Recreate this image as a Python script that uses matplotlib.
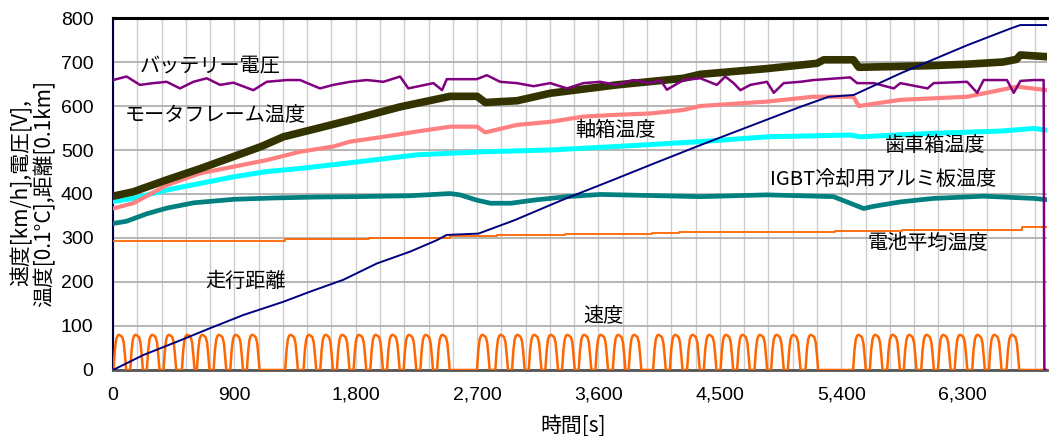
import matplotlib
matplotlib.use("Agg")
import matplotlib.pyplot as plt
from matplotlib.ticker import FuncFormatter, MultipleLocator

# --- speed [km/h]: one hump profile + the time of each hump's top
hump_dt = [-48, -38, -28, -18, -8, 5, 18, 28, 38, 46]
hump_kmh = [0, 45, 70, 78, 80, 78, 74, 62, 30, 0]
hump_t = [52, 176, 299, 423, 559, 670, 794, 918, 1041,
          1325, 1461, 1585, 1708, 1832, 1956, 2080, 2203, 2327, 2451,
          2747, 2883, 3007, 3131, 3254, 3378, 3501, 3625, 3754, 3872,
          4053, 4177, 4305, 4429, 4553, 4676, 4805, 4928, 5052, 5183,
          5536, 5660, 5789, 5912, 6041, 6165, 6289, 6419, 6543, 6674]

# --- distance [0.1 km]
dist_t = [0, 225, 472, 720, 967, 1263, 1461, 1708, 1956, 2203, 2401, 2475,
          2710, 2982, 3328, 3700, 4000, 4355, 4602, 5096, 5307, 5492, 5838,
          6085, 6333, 6654, 6728, 6925]
dist_v = [0, 34, 64, 95, 125, 155, 178, 205, 242, 269, 295, 307,
          310, 341, 386, 431, 468, 511, 540, 598, 621, 625, 674,
          706, 738, 776, 784, 784]

# --- battery mean temperature [0.1 C]
batt_t = [0, 1150, 1273, 1900, 2500, 2850, 3350, 4000, 4200, 5355, 5850, 6740, 6925]
batt_v = [293, 293, 297, 300, 304, 307, 309, 311, 313, 317, 319, 325, 325]

# --- battery voltage [V]
volt_t = [0, 101, 200, 299, 398, 497, 596, 695, 794, 893, 1041, 1140, 1288,
          1387, 1535, 1634, 1758, 1882, 2005, 2129, 2190, 2376, 2440, 2475,
          2698, 2772, 2871, 2995, 3118, 3242, 3366, 3489, 3613, 3736, 3860,
          3984, 4060, 4107, 4230, 4355, 4478, 4540, 4602, 4652, 4726, 4849,
          4900, 4973, 5096, 5195, 5467, 5517, 5640, 5790, 5838, 6040, 6085,
          6333, 6408, 6456, 6629, 6679, 6729, 6827, 6901, 6906, 6925]
volt_v = [659, 667, 648, 652, 655, 640, 655, 663, 648, 653, 636, 655, 659,
          659, 640, 648, 655, 659, 655, 667, 640, 652, 636, 661,
          661, 670, 655, 652, 645, 652, 640, 652, 655, 648, 659,
          652, 659, 637, 659, 663, 648, 667, 652, 636, 648, 655,
          630, 652, 655, 659, 665, 652, 652, 640, 652, 640, 652,
          655, 630, 659, 659, 630, 657, 659, 659, 0, 0]

# --- motor frame temperature [0.1 C]
motor_t = [0, 150, 398, 650, 893, 1100, 1264, 1500, 1758, 2129, 2376, 2500,
           2700, 2760, 2997, 3242, 3736, 4230, 4355, 4849, 5220, 5270, 5490,
           5530, 5838, 6085, 6333, 6600, 6700, 6728, 6925]
motor_v = [395, 405, 432, 458, 485, 508, 530, 548, 568, 598, 614, 622,
           622, 608, 612, 629, 648, 663, 672, 685, 697, 705, 705,
           688, 690, 692, 695, 700, 706, 716, 712]

# --- axle box temperature [0.1 C]
axle_t = [0, 151, 398, 645, 893, 1140, 1387, 1634, 1758, 2005, 2253, 2500,
          2700, 2760, 2995, 3242, 3489, 3736, 3984, 4230, 4355, 4849, 5190,
          5490, 5530, 5838, 6333, 6704, 6925]
axle_v = [367, 379, 420, 447, 462, 477, 496, 508, 519, 530, 542, 553,
          553, 540, 557, 564, 576, 580, 583, 591, 600, 610, 621,
          621, 600, 614, 621, 644, 636]

# --- gear box temperature [0.1 C]
gear_t = [0, 151, 398, 645, 893, 1140, 1387, 1758, 2253, 2747, 3242, 3736,
          4355, 4849, 5467, 5540, 6085, 6580, 6827, 6925]
gear_v = [383, 390, 409, 424, 439, 451, 458, 471, 489, 496, 500, 508,
          519, 530, 534, 530, 538, 543, 549, 545]

# --- IGBT cooling plate temperature [0.1 C]
igbt_t = [0, 100, 250, 400, 600, 900, 1200, 1500, 1800, 2200, 2500, 2573,
          2698, 2800, 2950, 3118, 3366, 3613, 4355, 4849, 5342, 5467, 5566,
          5640, 5838, 6085, 6456, 6827, 6925]
igbt_v = [333, 338, 355, 368, 380, 388, 391, 393, 394, 396, 401, 398,
          386, 379, 379, 386, 394, 399, 394, 398, 394, 379, 367,
          372, 382, 390, 395, 390, 387]

X_MAX = 6925

# build the speed trace from the hump profile
speed_t, speed_v = [0.0], [0.0]
for c in hump_t:
    for d, s in zip(hump_dt, hump_kmh):
        speed_t.append(c + d)
        speed_v.append(s)
speed_t.append(X_MAX)
speed_v.append(0.0)

jp = ["Noto Sans CJK JP", "DejaVu Sans"]
plt.rcParams["font.family"] = ["Liberation Sans", "Noto Sans CJK JP"]

fig = plt.figure(figsize=(10.49, 4.36), dpi=100)
ax = fig.add_axes([0.1077, 0.1514, 0.8903, 0.8073])

ax.plot(igbt_t, igbt_v, color="#008080", lw=3.4, zorder=3)
ax.plot(gear_t, gear_v, color="#00FFFF", lw=3.6, zorder=3)
ax.plot(axle_t, axle_v, color="#FF8080", lw=3.0, zorder=4)
ax.plot(motor_t, motor_v, color="#333300", lw=5.5, zorder=4)
ax.plot(volt_t, volt_v, color="#800080", lw=1.8, zorder=5)
ax.plot(batt_t, batt_v, color="#FF6600", lw=1.3, drawstyle="steps-post", zorder=3)
ax.plot(dist_t, dist_v, color="#000080", lw=1.4, zorder=5)
ax.plot(speed_t, speed_v, color="#FF6600", lw=1.8, zorder=4)

ax.set_xlim(0, X_MAX)
ax.set_ylim(0, 800)
ax.xaxis.set_major_locator(MultipleLocator(900))
ax.xaxis.set_minor_locator(MultipleLocator(180))
ax.yaxis.set_major_locator(MultipleLocator(100))
ax.xaxis.set_major_formatter(FuncFormatter(lambda v, _: f"{int(v):,}"))
ax.grid(which="both", axis="x", color="#CCCCCC", lw=1.0)
ax.grid(which="major", axis="y", color="#B0B0B0", lw=1.3)
ax.set_axisbelow(True)
ax.tick_params(which="both", length=0, labelsize=14)
ax.tick_params(axis="x", pad=12)
ax.tick_params(axis="y", pad=14)

ax.spines["top"].set_linewidth(2.2)
ax.spines["top"].set_color("black")
ax.spines["left"].set_color("#000040")
ax.spines["left"].set_linewidth(1.5)
ax.spines["bottom"].set_color("#555555")
ax.spines["bottom"].set_linewidth(2.0)
ax.spines["right"].set_visible(False)

ax.set_xlabel("時間[s]", family=jp, fontsize=15)
ax.xaxis.set_label_coords(0.4925, -0.128)
ax.set_ylabel("速度[km/h],電圧[V],\n温度[0.1°C],距離[0.1km]", family=jp,
              fontsize=15, linespacing=1.05)
ax.yaxis.set_label_coords(-0.061, 0.503)

labels = [
    ("バッテリー電圧", 200, 689),
    ("モータフレーム温度", 89, 580),
    ("軸箱温度", 3427, 544),
    ("歯車箱温度", 5727, 511),
    ("IGBT冷却用アルミ板温度", 4874, 432),
    ("電池平均温度", 5593, 288),
    ("走行距離", 683, 201),
    ("速度", 3487, 123),
]
for txt, tx, ty in labels:
    ax.text(tx, ty, txt, family=jp, fontsize=14.5, va="center", ha="left", zorder=6)

fig.savefig("out.png", dpi=100)
